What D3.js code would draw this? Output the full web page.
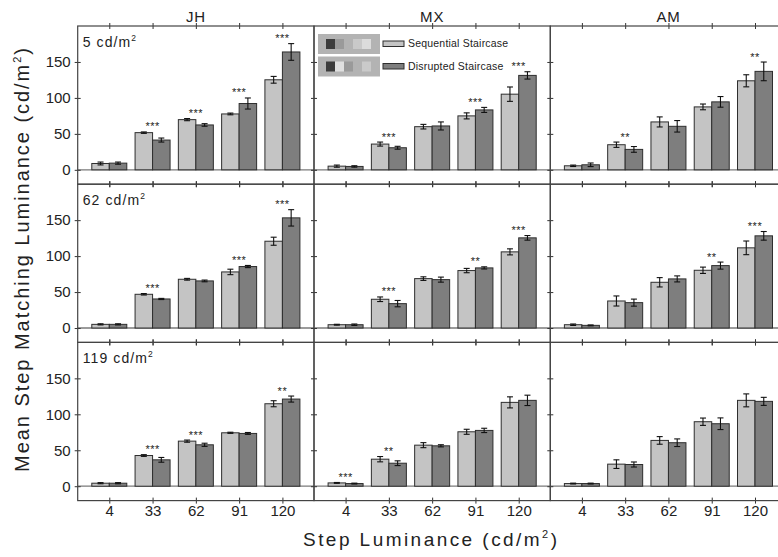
<!DOCTYPE html>
<html>
<head>
<meta charset="utf-8">
<script src="https://cdn.jsdelivr.net/npm/d3@7"></script>
<style>
  body { margin: 0; background: #fff; }
  text { font-family: "Liberation Sans", Arial, sans-serif; fill: #222; }
</style>
</head>
<body>
<script>
// categories
var categories = ['4', '33', '62', '91', '120'];
var subjects = ['JH', 'MX', 'AM'];
var backgrounds = ['5', '62', '119'];
var yTicks = [0, 50, 100, 150];
var seriesNames = ['Sequential Staircase', 'Disrupted Staircase'];

// values: one row per background luminance (5, 62, 119)
var jhSeq = [[8.8, 51.7, 69.8, 77.7, 125.2], [5.1, 46.9, 67.8, 78.0, 120.7], [4.2, 42.7, 62.7, 74.3, 114.7]];
var jhSeqErr = [[2, 1, 1.5, 1.2, 4.7], [0.8, 1, 1.2, 3.8, 5.6], [0.8, 1.2, 1.5, 0.8, 4.2]];
var jhDis = [[9.3, 41.4, 62.4, 92.2, 163.9], [5.1, 40.4, 65.5, 85.5, 153.2], [4.2, 36.7, 57.6, 73.4, 121.2]];
var jhDisErr = [[1.5, 2.8, 1.8, 7.7, 11.6], [0.8, 0.8, 1.2, 1.5, 11.4], [0.8, 3.3, 2.2, 1.3, 4.2]];
var jhStars = [['', '***', '***', '***', '***'], ['', '***', '', '***', '***'], ['', '***', '***', '', '**']];

var mxSeq = [[5.1, 35.8, 60.0, 75.0, 105.2], [4.6, 40.0, 68.7, 79.9, 105.9], [4.6, 37.6, 57.1, 75.7, 116.6]];
var mxSeqErr = [[1.5, 2.8, 3.2, 4.2, 10], [0.6, 3.2, 2.5, 3, 4.2], [0.6, 3.7, 3.5, 3.5, 7.7]];
var mxDis = [[4.7, 30.7, 61.0, 83.3, 131.3], [4.6, 33.9, 67.3, 83.6, 125.4], [3.7, 32.0, 56.2, 77.6, 119.4]];
var mxDisErr = [[1, 2, 5.6, 3.5, 5.1], [1, 4.4, 3.5, 1.5, 3.2], [0.6, 3.3, 1.5, 3, 7.2]];
var mxStars = [['', '***', '', '***', '***'], ['', '***', '', '**', '***'], ['***', '**', '', '', '']];

var amSeq = [[5.6, 34.9, 66.6, 87.5, 123.8], [4.6, 37.6, 63.6, 80.3, 111.5], [3.7, 30.7, 63.7, 89.7, 119.4]];
var amSeqErr = [[1, 3.7, 7, 4, 8.4], [1, 7, 6.5, 4.4, 9.5], [0.6, 6, 5.3, 5.1, 9]];
var amDis = [[7.0, 28.4, 60.5, 94.5, 136.9], [3.7, 35.3, 68.3, 86.8, 128.2], [3.7, 30.2, 60.5, 86.9, 118.0]];
var amDisErr = [[2.5, 4, 8, 7.4, 13], [0.6, 4.9, 4.2, 4.9, 6], [0.6, 3.5, 5.3, 8.1, 5.6]];
var amStars = [['', '**', '', '', '**'], ['', '', '', '**', '***'], ['', '', '', '', '']];

var seqAll = [jhSeq, mxSeq, amSeq],
    seqErrAll = [jhSeqErr, mxSeqErr, amSeqErr],
    disAll = [jhDis, mxDis, amDis],
    disErrAll = [jhDisErr, mxDisErr, amDisErr],
    starsAll = [jhStars, mxStars, amStars];

// layout
var width = 778, height = 557,
    marginLeft = 77.7, marginTop = 26,
    pw = 236.3, ph = 158.2,
    barW = 17.5;

var colors = ['#c4c4c4', '#7e7e7e'];

var x = d3.scalePoint().domain(categories).range([0, pw]).padding(0.73);
var y = d3.scaleLinear().domain([-20, 200]).range([ph, 0]);

var svg = d3.select('body').append('svg')
    .attr('width', width)
    .attr('height', height);

svg.append('rect').attr('width', width).attr('height', height).attr('fill', '#fff');

subjects.forEach(function(subj, c) {
  backgrounds.forEach(function(bg, r) {
    var g = svg.append('g')
        .attr('transform', 'translate(' + (marginLeft + c * pw) + ',' + (marginTop + r * ph) + ')');

    var data = categories.map(function(k, i) {
      return {k: k, seq: seqAll[c][r][i], seqE: seqErrAll[c][r][i],
              dis: disAll[c][r][i], disE: disErrAll[c][r][i], star: starsAll[c][r][i]};
    });

    // zero line
    g.append('line')
        .attr('x1', 0).attr('x2', pw)
        .attr('y1', y(0)).attr('y2', y(0))
        .attr('stroke', '#7a7a7a').attr('stroke-width', 1.3);

    // bars
    var pair = g.selectAll('.pair').data(data).enter().append('g');
    pair.append('rect')
        .attr('x', function(d) { return x(d.k) - barW; })
        .attr('y', function(d) { return y(d.seq); })
        .attr('width', barW)
        .attr('height', function(d) { return y(0) - y(d.seq); })
        .attr('fill', colors[0]).attr('stroke', '#2e2e2e').attr('stroke-width', 1);
    pair.append('rect')
        .attr('x', function(d) { return x(d.k); })
        .attr('y', function(d) { return y(d.dis); })
        .attr('width', barW)
        .attr('height', function(d) { return y(0) - y(d.dis); })
        .attr('fill', colors[1]).attr('stroke', '#2e2e2e').attr('stroke-width', 1);

    // error bars
    [['seq', 'seqE', -barW / 2], ['dis', 'disE', barW / 2]].forEach(function(s) {
      var eb = pair.append('g').attr('stroke', '#111').attr('stroke-width', 1.1);
      eb.append('line')
          .attr('x1', function(d) { return x(d.k) + s[2]; })
          .attr('x2', function(d) { return x(d.k) + s[2]; })
          .attr('y1', function(d) { return y(d[s[0]] - d[s[1]]); })
          .attr('y2', function(d) { return y(d[s[0]] + d[s[1]]); });
      [-1, 1].forEach(function(sign) {
        eb.append('line')
            .attr('x1', function(d) { return x(d.k) + s[2] - 3; })
            .attr('x2', function(d) { return x(d.k) + s[2] + 3; })
            .attr('y1', function(d) { return y(d[s[0]] + sign * d[s[1]]); })
            .attr('y2', function(d) { return y(d[s[0]] + sign * d[s[1]]); });
      });
    });

    // significance stars, a little above the highest whisker
    pair.append('text')
        .attr('x', function(d) { return x(d.k); })
        .attr('y', function(d) { return y(Math.max(d.seq + d.seqE, d.dis + d.disE)) - 1.5; })
        .attr('text-anchor', 'middle')
        .attr('font-size', 11)
        .attr('letter-spacing', 0.5)
        .text(function(d) { return d.star; });

    // axes (ticks crossing the frame)
    var yAxis = d3.axisLeft(y).tickValues(yTicks).tickSize(3).tickPadding(4)
        .tickFormat(c === 0 ? d3.format('d') : '');
    g.append('g').call(yAxis)
        .call(function(a) {
          a.select('.domain').remove();
          a.selectAll('.tick line').attr('x1', 3).attr('stroke', '#333');
          a.selectAll('.tick text').attr('font-size', 15).attr('font-family', null).attr('fill', '#222');
        });

    var topAxis = d3.axisTop(x).tickSize(3).tickFormat('');
    g.append('g').call(topAxis)
        .call(function(a) {
          a.select('.domain').remove();
          a.selectAll('.tick line').attr('y1', 3).attr('stroke', '#333');
        });

    var bottomAxis = d3.axisBottom(x).tickSize(3).tickPadding(2)
        .tickFormat(r === 2 ? null : '');
    g.append('g').attr('transform', 'translate(0,' + ph + ')').call(bottomAxis)
        .call(function(a) {
          a.select('.domain').remove();
          a.selectAll('.tick line').attr('y1', -3).attr('stroke', '#333');
          a.selectAll('.tick text').attr('font-size', 15).attr('font-family', null).attr('fill', '#222');
        });

    // frame
    g.append('rect')
        .attr('width', pw).attr('height', ph)
        .attr('fill', 'none').attr('stroke', '#444').attr('stroke-width', 1.2);

    // row label
    if (c === 0) {
      var lab = g.append('text')
          .attr('x', 5).attr('y', 20.7)
          .attr('font-size', 14).attr('letter-spacing', 1.1);
      lab.append('tspan').text(bg + ' cd/m');
      lab.append('tspan').attr('font-size', 8.5).attr('dy', -6).text('2');
    }

    // column title
    if (r === 0) {
      svg.append('text')
          .attr('x', marginLeft + c * pw + pw / 2).attr('y', 21.5)
          .attr('text-anchor', 'middle')
          .attr('font-size', 15).attr('letter-spacing', 0.8)
          .text(subj);
    }

    // legend in the MX top panel
    if (c === 1 && r === 0) {
      var icons = [
        [['#3c3c3c', 8], ['#9a9a9a', 17], ['#c9c9c9', 35], ['#dcdcdc', 44]],
        [['#3c3c3c', 8], ['#e0e0e0', 17], ['#9a9a9a', 26], ['#cacaca', 44]]
      ];
      seriesNames.forEach(function(name, i) {
        var ly = 8 + i * 22.5;
        g.append('rect').attr('x', 4).attr('y', ly).attr('width', 62).attr('height', 20)
            .attr('fill', '#b3b3b3');
        icons[i].forEach(function(sq) {
          g.append('rect').attr('x', 4 + sq[1]).attr('y', ly + 5).attr('width', 9).attr('height', 10)
              .attr('fill', sq[0]);
        });
        g.append('rect').attr('x', 69).attr('y', ly + 7).attr('width', 21).attr('height', 5.5)
            .attr('fill', colors[i]).attr('stroke', '#2e2e2e').attr('stroke-width', 1);
        g.append('text').attr('x', 94).attr('y', ly + 13)
            .attr('font-size', 10.5).attr('letter-spacing', 0.2)
            .text(name);
      });
    }
  });
});

// axis titles
var yTitle = svg.append('text')
    .attr('text-anchor', 'middle')
    .attr('transform', 'translate(29,' + 260 + ')rotate(-90)')
    .attr('font-size', 20)
    .attr('textLength', 424).attr('lengthAdjust', 'spacing');
yTitle.append('tspan').text('Mean Step Matching Luminance (cd/m');
yTitle.append('tspan').attr('font-size', 11).attr('dy', -8).text('2');
yTitle.append('tspan').attr('dy', 8).text(')');

var xTitle = svg.append('text')
    .attr('text-anchor', 'middle')
    .attr('x', 430).attr('y', 546)
    .attr('font-size', 19)
    .attr('textLength', 254).attr('lengthAdjust', 'spacing');
xTitle.append('tspan').text('Step Luminance (cd/m');
xTitle.append('tspan').attr('font-size', 11).attr('dy', -8).text('2');
xTitle.append('tspan').attr('dy', 8).text(')');
</script>
</body>
</html>
